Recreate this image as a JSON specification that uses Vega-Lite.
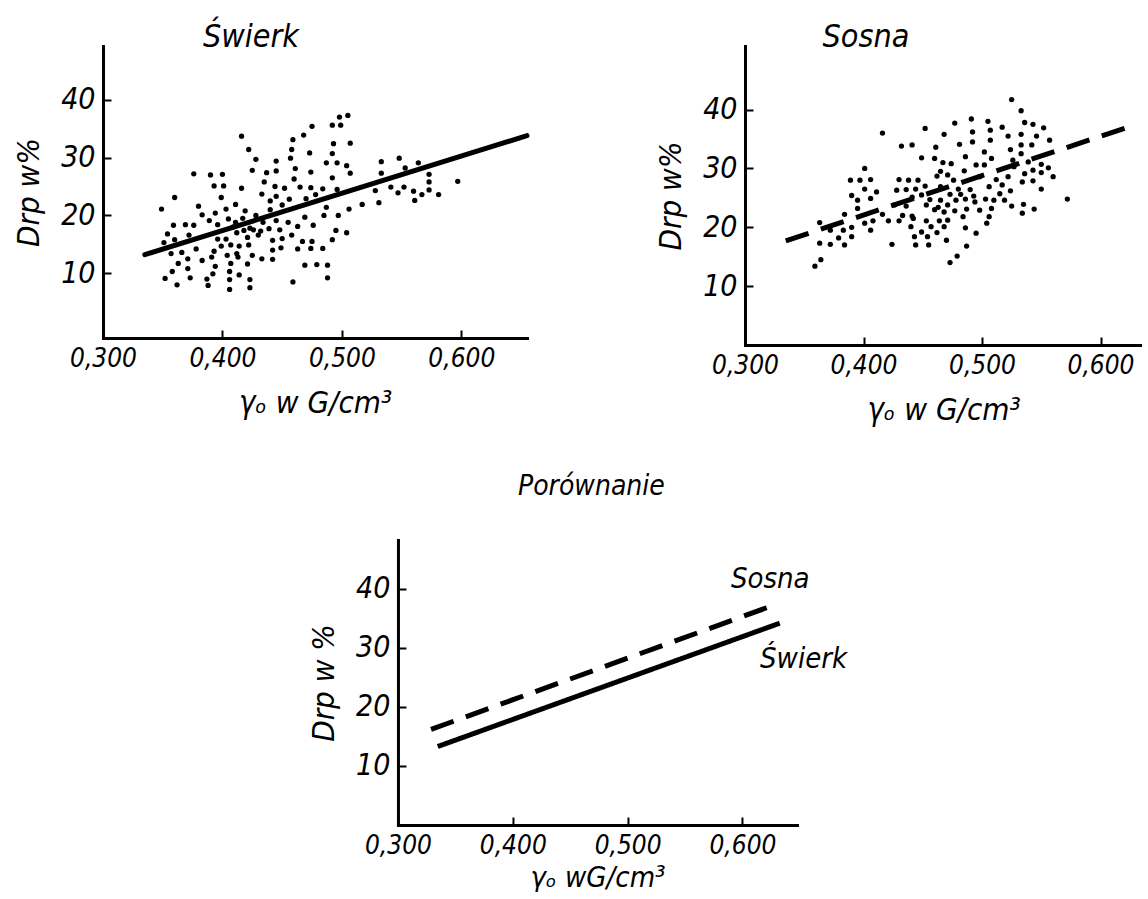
{
 "$schema": "https://vega.github.io/schema/vega-lite/v6.json",
 "background": "white",
 "padding": {"left": 13, "top": 21, "right": 0, "bottom": 0},
 "datasets": {
  "swierk": [
   {"density":0.505,"drp":37.3},{"density":0.498,"drp":37.0},{"density":0.499,"drp":35.6},{"density":0.492,"drp":35.6},{"density":0.475,"drp":35.4},
   {"density":0.468,"drp":33.9},{"density":0.416,"drp":33.7},{"density":0.459,"drp":33.1},{"density":0.507,"drp":32.5},{"density":0.493,"drp":32.4},
   {"density":0.422,"drp":31.4},{"density":0.458,"drp":31.4},{"density":0.473,"drp":30.8},{"density":0.492,"drp":30.7},{"density":0.428,"drp":29.7},
   {"density":0.457,"drp":29.9},{"density":0.445,"drp":29.4},{"density":0.487,"drp":29.1},{"density":0.496,"drp":29.1},{"density":0.533,"drp":29.3},
   {"density":0.548,"drp":29.9},{"density":0.564,"drp":29.1},{"density":0.553,"drp":28.2},{"density":0.504,"drp":28.6},{"density":0.425,"drp":27.8},
   {"density":0.437,"drp":27.4},{"density":0.445,"drp":27.7},{"density":0.461,"drp":28.1},{"density":0.474,"drp":27.5},{"density":0.507,"drp":27.3},
   {"density":0.533,"drp":27.3},{"density":0.573,"drp":27.1},{"density":0.376,"drp":27.2},{"density":0.390,"drp":27.0},{"density":0.400,"drp":27.1},
   {"density":0.492,"drp":26.5},{"density":0.460,"drp":26.3},{"density":0.435,"drp":25.8},{"density":0.597,"drp":25.9},{"density":0.573,"drp":25.8},
   {"density":0.393,"drp":25.1},{"density":0.401,"drp":25.1},{"density":0.416,"drp":24.7},{"density":0.444,"drp":25.0},{"density":0.452,"drp":24.7},
   {"density":0.465,"drp":24.9},{"density":0.474,"drp":24.8},{"density":0.484,"drp":24.6},{"density":0.496,"drp":24.5},{"density":0.541,"drp":24.9},
   {"density":0.552,"drp":24.9},{"density":0.528,"drp":24.3},{"density":0.560,"drp":24.2},{"density":0.547,"drp":23.9},{"density":0.567,"drp":23.6},
   {"density":0.573,"drp":24.4},{"density":0.581,"drp":23.6},{"density":0.360,"drp":23.1},{"density":0.399,"drp":23.1},{"density":0.433,"drp":23.7},
   {"density":0.445,"drp":23.3},{"density":0.456,"drp":22.8},{"density":0.470,"drp":22.9},{"density":0.478,"drp":23.6},{"density":0.561,"drp":22.6},
   {"density":0.380,"drp":21.6},{"density":0.411,"drp":21.9},{"density":0.440,"drp":22.5},{"density":0.450,"drp":21.8},{"density":0.517,"drp":21.9},
   {"density":0.531,"drp":22.2},{"density":0.349,"drp":21.1},{"density":0.403,"drp":21.1},{"density":0.419,"drp":20.8},{"density":0.440,"drp":21.0},
   {"density":0.487,"drp":21.4},{"density":0.506,"drp":21.1},{"density":0.383,"drp":20.1},{"density":0.394,"drp":20.4},{"density":0.428,"drp":20.0},
   {"density":0.469,"drp":19.7},{"density":0.485,"drp":20.0},{"density":0.497,"drp":20.0},{"density":0.389,"drp":19.1},{"density":0.405,"drp":19.4},
   {"density":0.411,"drp":18.8},{"density":0.417,"drp":19.5},{"density":0.434,"drp":18.8},{"density":0.445,"drp":19.1},{"density":0.455,"drp":18.8},
   {"density":0.359,"drp":18.3},{"density":0.369,"drp":18.4},{"density":0.376,"drp":18.3},{"density":0.396,"drp":18.4},{"density":0.409,"drp":18.0},
   {"density":0.423,"drp":17.8},{"density":0.476,"drp":18.3},{"density":0.463,"drp":18.1},{"density":0.504,"drp":17.0},{"density":0.354,"drp":16.8},
   {"density":0.372,"drp":16.6},{"density":0.396,"drp":15.9},{"density":0.403,"drp":15.9},{"density":0.418,"drp":17.4},{"density":0.412,"drp":17.0},
   {"density":0.426,"drp":17.5},{"density":0.432,"drp":17.3},{"density":0.439,"drp":17.7},{"density":0.448,"drp":17.5},{"density":0.458,"drp":16.6},
   {"density":0.495,"drp":17.4},{"density":0.492,"drp":15.8},{"density":0.360,"drp":15.8},{"density":0.351,"drp":15.3},{"density":0.421,"drp":16.2},
   {"density":0.430,"drp":16.6},{"density":0.442,"drp":15.7},{"density":0.450,"drp":16.0},{"density":0.467,"drp":15.5},{"density":0.475,"drp":15.5},
   {"density":0.399,"drp":14.7},{"density":0.407,"drp":14.9},{"density":0.414,"drp":14.7},{"density":0.422,"drp":14.9},{"density":0.378,"drp":14.2},
   {"density":0.393,"drp":13.8},{"density":0.357,"drp":13.4},{"density":0.366,"drp":13.6},{"density":0.404,"drp":13.1},{"density":0.412,"drp":13.4},
   {"density":0.425,"drp":13.1},{"density":0.442,"drp":14.0},{"density":0.449,"drp":14.4},{"density":0.463,"drp":14.2},{"density":0.474,"drp":14.3},
   {"density":0.484,"drp":14.3},{"density":0.371,"drp":12.5},{"density":0.383,"drp":12.2},{"density":0.391,"drp":12.8},{"density":0.413,"drp":12.8},
   {"density":0.433,"drp":12.5},{"density":0.442,"drp":12.4},{"density":0.363,"drp":11.7},{"density":0.394,"drp":11.2},{"density":0.407,"drp":11.7},
   {"density":0.421,"drp":11.6},{"density":0.469,"drp":11.4},{"density":0.479,"drp":11.5},{"density":0.488,"drp":11.4},{"density":0.358,"drp":10.3},
   {"density":0.371,"drp":10.8},{"density":0.392,"drp":9.9},{"density":0.406,"drp":10.3},{"density":0.414,"drp":9.7},{"density":0.352,"drp":9.1},
   {"density":0.373,"drp":9.2},{"density":0.387,"drp":9.0},{"density":0.406,"drp":8.9},{"density":0.423,"drp":8.9},{"density":0.459,"drp":8.5},
   {"density":0.488,"drp":9.2},{"density":0.362,"drp":8.0},{"density":0.388,"drp":7.9},{"density":0.406,"drp":7.2},{"density":0.423,"drp":7.5}
  ],
  "sosna": [
   {"density":0.525,"drp":41.7},{"density":0.533,"drp":39.8},{"density":0.416,"drp":36.0},{"density":0.452,"drp":36.8},{"density":0.477,"drp":37.7},
   {"density":0.491,"drp":38.4},{"density":0.505,"drp":38.0},{"density":0.468,"drp":35.8},{"density":0.432,"drp":33.8},{"density":0.441,"drp":34.0},
   {"density":0.461,"drp":33.6},{"density":0.481,"drp":34.1},{"density":0.492,"drp":36.2},{"density":0.492,"drp":34.5},{"density":0.507,"drp":36.5},
   {"density":0.507,"drp":34.8},{"density":0.517,"drp":37.0},{"density":0.522,"drp":35.5},{"density":0.536,"drp":37.8},{"density":0.543,"drp":37.5},
   {"density":0.552,"drp":36.9},{"density":0.533,"drp":35.8},{"density":0.546,"drp":35.5},{"density":0.557,"drp":34.8},{"density":0.449,"drp":31.8},
   {"density":0.460,"drp":31.7},{"density":0.467,"drp":31.0},{"density":0.474,"drp":30.8},{"density":0.486,"drp":32.0},{"density":0.502,"drp":32.8},
   {"density":0.508,"drp":31.7},{"density":0.495,"drp":30.6},{"density":0.502,"drp":30.6},{"density":0.524,"drp":33.2},{"density":0.533,"drp":32.5},
   {"density":0.542,"drp":34.0},{"density":0.533,"drp":34.0},{"density":0.526,"drp":31.4},{"density":0.527,"drp":30.3},{"density":0.539,"drp":31.1},
   {"density":0.550,"drp":30.7},{"density":0.556,"drp":30.1},{"density":0.401,"drp":30.0},{"density":0.465,"drp":29.5},{"density":0.462,"drp":28.7},
   {"density":0.471,"drp":28.9},{"density":0.485,"drp":29.6},{"density":0.498,"drp":28.6},{"density":0.512,"drp":28.1},{"density":0.522,"drp":28.6},
   {"density":0.536,"drp":29.1},{"density":0.543,"drp":29.7},{"density":0.550,"drp":29.3},{"density":0.560,"drp":28.6},{"density":0.389,"drp":28.0},
   {"density":0.397,"drp":28.0},{"density":0.406,"drp":28.1},{"density":0.430,"drp":28.1},{"density":0.438,"drp":28.0},{"density":0.446,"drp":28.0},
   {"density":0.476,"drp":28.0},{"density":0.534,"drp":27.7},{"density":0.543,"drp":27.9},{"density":0.401,"drp":26.5},{"density":0.411,"drp":26.0},
   {"density":0.428,"drp":26.3},{"density":0.436,"drp":26.4},{"density":0.444,"drp":26.5},{"density":0.452,"drp":27.0},{"density":0.465,"drp":26.9},
   {"density":0.480,"drp":26.5},{"density":0.490,"drp":26.4},{"density":0.506,"drp":26.9},{"density":0.517,"drp":27.2},{"density":0.524,"drp":26.2},
   {"density":0.550,"drp":26.5},{"density":0.572,"drp":24.8},{"density":0.390,"drp":25.4},{"density":0.395,"drp":24.6},{"density":0.406,"drp":24.9},
   {"density":0.441,"drp":25.1},{"density":0.449,"drp":25.5},{"density":0.456,"drp":24.7},{"density":0.465,"drp":24.6},{"density":0.473,"drp":25.6},
   {"density":0.482,"drp":25.6},{"density":0.493,"drp":25.3},{"density":0.503,"drp":24.8},{"density":0.515,"drp":25.7},{"density":0.510,"drp":24.6},
   {"density":0.395,"drp":23.2},{"density":0.384,"drp":22.2},{"density":0.426,"drp":23.8},{"density":0.436,"drp":23.6},{"density":0.453,"drp":23.8},
   {"density":0.463,"drp":23.4},{"density":0.471,"drp":23.8},{"density":0.478,"drp":24.6},{"density":0.486,"drp":24.8},{"density":0.494,"drp":24.3},
   {"density":0.498,"drp":22.9},{"density":0.508,"drp":23.2},{"density":0.519,"drp":24.6},{"density":0.525,"drp":23.6},{"density":0.534,"drp":22.4},
   {"density":0.535,"drp":23.9},{"density":0.544,"drp":23.1},{"density":0.416,"drp":22.2},{"density":0.433,"drp":22.0},{"density":0.441,"drp":21.9},
   {"density":0.460,"drp":23.0},{"density":0.468,"drp":22.6},{"density":0.477,"drp":22.8},{"density":0.487,"drp":23.1},{"density":0.506,"drp":21.8},
   {"density":0.363,"drp":20.8},{"density":0.383,"drp":19.5},{"density":0.390,"drp":20.0},{"density":0.401,"drp":20.7},{"density":0.408,"drp":21.1},
   {"density":0.421,"drp":21.1},{"density":0.430,"drp":21.1},{"density":0.442,"drp":21.5},{"density":0.453,"drp":21.1},{"density":0.464,"drp":21.1},
   {"density":0.471,"drp":21.2},{"density":0.484,"drp":21.8},{"density":0.504,"drp":20.7},{"density":0.372,"drp":19.5},{"density":0.379,"drp":18.2},
   {"density":0.390,"drp":18.4},{"density":0.406,"drp":19.5},{"density":0.440,"drp":20.1},{"density":0.449,"drp":19.2},{"density":0.457,"drp":20.1},
   {"density":0.468,"drp":20.1},{"density":0.486,"drp":19.9},{"density":0.495,"drp":19.0},{"density":0.363,"drp":17.3},{"density":0.372,"drp":17.1},
   {"density":0.384,"drp":17.0},{"density":0.424,"drp":17.1},{"density":0.444,"drp":17.0},{"density":0.455,"drp":17.0},{"density":0.443,"drp":18.4},
   {"density":0.454,"drp":18.4},{"density":0.462,"drp":19.1},{"density":0.470,"drp":17.8},{"density":0.487,"drp":16.8},{"density":0.364,"drp":14.5},
   {"density":0.359,"drp":13.4},{"density":0.479,"drp":15.1},{"density":0.473,"drp":14.0}
  ],
  "fit": [
   {"panel":"Świerk","species":"Świerk","density":0.335,"drp":13.2},
   {"panel":"Świerk","species":"Świerk","density":0.655,"drp":33.8},
   {"panel":"Sosna","species":"Sosna","density":0.3344,"drp":17.7},
   {"panel":"Sosna","species":"Sosna","density":0.6216,"drp":36.9},
   {"panel":"Porównanie","species":"Świerk","density":0.3346,"drp":13.3},
   {"panel":"Porównanie","species":"Świerk","density":0.6325,"drp":34.2},
   {"panel":"Porównanie","species":"Sosna","density":0.3288,"drp":16.2},
   {"panel":"Porównanie","species":"Sosna","density":0.628,"drp":37.3}
  ],
  "titles": [
   {"panel":"Świerk","label":"Świerk","density":0.3837,"drp":49.1},
   {"panel":"Sosna","label":"Sosna","density":0.3654,"drp":50.6}
  ],
  "labels": [
   {"label":"Sosna","density":0.590,"drp":40.2},
   {"label":"Świerk","density":0.6153,"drp":26.6}
  ]
 },
 "vconcat": [
  {
   "hconcat": [
    {
     "width": 424, "height": 292,
     "layer": [
      {
       "data": {"name": "swierk"},
       "mark": {"type": "circle", "size": 28, "color": "black", "opacity": 1},
       "encoding": {
        "x": {"field": "density", "type": "quantitative", "scale": {"domain": [0.3, 0.655], "nice": false, "zero": false},
              "axis": {"values": [0.3, 0.4, 0.5, 0.6], "labelExpr": "replace(format(datum.value, '.3f'), '.', ',')", "title": "γₒ w G/cm³"}},
        "y": {"field": "drp", "type": "quantitative", "scale": {"domain": [-1.2, 49.3], "nice": false, "zero": false},
              "axis": {"values": [10, 20, 30, 40], "title": "Drp w%"}}
       }
      },
      {
       "data": {"name": "fit"},
       "transform": [{"filter": "datum.panel == 'Świerk'"}],
       "mark": {"type": "line", "color": "black", "strokeWidth": 5, "strokeCap": "round"},
       "encoding": {
        "x": {"field": "density", "type": "quantitative"},
        "y": {"field": "drp", "type": "quantitative"}
       }
      },
      {
       "data": {"name": "titles"},
       "transform": [{"filter": "datum.panel == 'Świerk'"}],
       "mark": {"type": "text", "align": "left", "baseline": "alphabetic", "fontSize": 32, "fontStyle": "italic", "color": "black", "font": "DejaVu Sans Condensed"},
       "encoding": {
        "x": {"field": "density", "type": "quantitative"},
        "y": {"field": "drp", "type": "quantitative"},
        "text": {"field": "label"}
       }
      }
     ]
    },
    {
     "width": 397, "height": 299,
     "layer": [
      {
       "data": {"name": "sosna"},
       "mark": {"type": "circle", "size": 28, "color": "black", "opacity": 1},
       "encoding": {
        "x": {"field": "density", "type": "quantitative", "scale": {"domain": [0.3, 0.635], "nice": false, "zero": false},
              "axis": {"values": [0.3, 0.4, 0.5, 0.6], "labelExpr": "replace(format(datum.value, '.3f'), '.', ',')", "title": "γₒ w G/cm³"}},
        "y": {"field": "drp", "type": "quantitative", "scale": {"domain": [0, 50.8], "nice": false, "zero": false},
              "axis": {"values": [10, 20, 30, 40], "title": "Drp w%"}}
       }
      },
      {
       "data": {"name": "fit"},
       "transform": [{"filter": "datum.panel == 'Sosna'"}],
       "mark": {"type": "line", "color": "black", "strokeWidth": 5, "strokeDash": [24, 13]},
       "encoding": {
        "x": {"field": "density", "type": "quantitative"},
        "y": {"field": "drp", "type": "quantitative"}
       }
      },
      {
       "data": {"name": "titles"},
       "transform": [{"filter": "datum.panel == 'Sosna'"}],
       "mark": {"type": "text", "align": "left", "baseline": "alphabetic", "fontSize": 32, "fontStyle": "italic", "color": "black", "font": "DejaVu Sans Condensed"},
       "encoding": {
        "x": {"field": "density", "type": "quantitative"},
        "y": {"field": "drp", "type": "quantitative"},
        "text": {"field": "label"}
       }
      }
     ]
    }
   ],
   "spacing": 118
  },
  {
   "width": 399, "height": 285,
   "title": {"text": "Porównanie", "offset": 39, "dx": 120, "fontSize": 28},
   "layer": [
    {
     "data": {"name": "fit"},
     "transform": [{"filter": "datum.panel == 'Porównanie'"}],
     "mark": {"type": "line", "color": "black", "strokeWidth": 5},
     "encoding": {
      "x": {"field": "density", "type": "quantitative", "scale": {"domain": [0.3, 0.6475], "nice": false, "zero": false},
            "axis": {"values": [0.3, 0.4, 0.5, 0.6], "labelExpr": "replace(format(datum.value, '.3f'), '.', ',')", "title": "γₒ wG/cm³", "titlePadding": 5, "titleFontSize": 29}},
      "y": {"field": "drp", "type": "quantitative", "scale": {"domain": [0, 48.3], "nice": false, "zero": false},
            "axis": {"values": [10, 20, 30, 40], "title": "Drp w %"}},
      "detail": {"field": "species"},
      "strokeDash": {"field": "species", "type": "nominal", "scale": {"domain": ["Świerk", "Sosna"], "range": [[1, 0], [24, 13]]}, "legend": null}
     }
    },
    {
     "data": {"name": "labels"},
     "mark": {"type": "text", "align": "left", "baseline": "alphabetic", "fontSize": 29, "fontStyle": "italic", "color": "black", "font": "DejaVu Sans Condensed"},
     "encoding": {
      "x": {"field": "density", "type": "quantitative"},
      "y": {"field": "drp", "type": "quantitative"},
      "text": {"field": "label"}
     }
    }
   ]
  }
 ],
 "spacing": 48,
 "center": true,
 "config": {
  "view": {"stroke": null},
  "font": "DejaVu Sans Condensed",
  "axis": {
   "grid": false, "domainColor": "#000", "domainWidth": 3, "domainCap": "square",
   "tickColor": "#000", "tickWidth": 2, "tickSize": -8,
   "labelColor": "#000", "labelFontStyle": "italic", "labelFont": "DejaVu Sans Condensed",
   "labelFlush": false, "labelOverlap": false,
   "titleColor": "#000", "titleFontSize": 31, "titleFontStyle": "italic", "titleFontWeight": "normal",
   "titleFont": "DejaVu Sans Condensed"
  },
  "axisY": {"titlePadding": 15, "labelFontSize": 30, "labelPadding": 16},
  "axisX": {"titlePadding": 17, "labelFontSize": 26, "labelPadding": 15},
  "title": {"fontSize": 32, "fontStyle": "italic", "fontWeight": "normal", "color": "#000", "anchor": "start", "frame": "group", "font": "DejaVu Sans Condensed"}
 }
}
